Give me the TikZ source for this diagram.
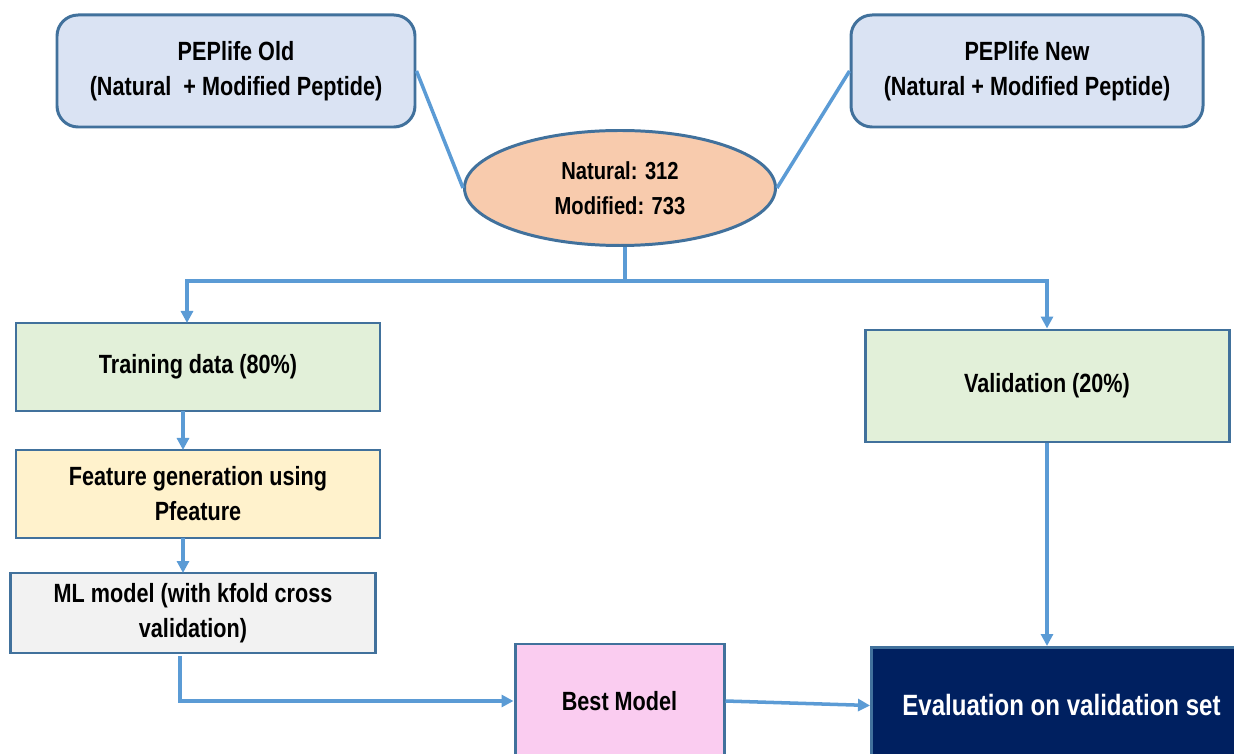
\documentclass[tikz,border=0pt]{standalone}
\usepackage{fontspec}
\setmainfont{Liberation Sans}[FakeStretch=0.82]
\usepackage{xcolor}
\usetikzlibrary{positioning, arrows.meta, shapes.geometric}
\definecolor{edgeblue}{HTML}{41719C}
\definecolor{lineblue}{HTML}{5B9BD5}
\tikzset{
  src/.style={rectangle, draw=edgeblue, line width=1.7pt, rounded corners=12pt, align=center,
              fill={rgb,255:red,218;green,227;blue,243},
              minimum width=7.16cm, minimum height=2.24cm, font=\bfseries\fontsize{15}{20}\selectfont},
  blk/.style={rectangle, draw=edgeblue, line width=1.7pt, align=center,
              minimum width=7.28cm, minimum height=1.76cm, font=\bfseries\fontsize{15}{20}\selectfont},
  arr/.style={-{Triangle[length=2.4mm, width=2.4mm]}, draw=lineblue, line width=2pt},
  ln/.style={draw=lineblue, line width=2pt},
}
\begin{document}
\begin{tikzpicture}
  \useasboundingbox (0,0) rectangle (24.68,-15.08);
  % sources
  \node[src] (old) at (4.72,-1.42) {PEPlife Old\\(Natural \ + Modified Peptide)};
  \node[src, minimum width=7.04cm] (new) at (20.54,-1.42) {PEPlife New\\(Natural + Modified Peptide)};
  \node[ellipse, draw=edgeblue, line width=1.7pt, fill={rgb,255:red,248;green,203;blue,173},
        minimum width=6.22cm, minimum height=2.3cm, align=center,
        font=\bfseries\fontsize{14}{20}\selectfont] (pool) at (12.4,-3.76) {Natural: 312\\Modified: 733};
  % split
  \node[blk, fill={rgb,255:red,226;green,240;blue,217}] (train) at (3.96,-7.34) {Training data (80\%)};
  \node[blk, fill={rgb,255:red,226;green,240;blue,217}, minimum height=2.24cm] (valid) at (20.94,-7.72) {Validation (20\%)};
  \node[blk, fill={rgb,255:red,255;green,242;blue,204}] (feat) at (3.96,-9.88) {Feature generation using\\Pfeature};
  \node[blk, fill={rgb,255:red,242;green,242;blue,242}, minimum width=7.3cm, minimum height=1.6cm] (ml) at (3.86,-12.26) {ML model (with kfold cross\\validation)};
  \node[blk, fill={rgb,255:red,250;green,204;blue,240}, minimum width=4.18cm, minimum height=2.28cm] (best) at (12.39,-14.02) {Best Model};
  \node[blk, fill={rgb,255:red,0;green,32;blue,96}, text=white, anchor=north west, minimum width=7.6cm, minimum height=2.32cm,
        font=\bfseries\fontsize{16.7}{22}\selectfont] (eval) at (17.4,-12.92) {Evaluation on validation set};
  % connectors
  \draw[ln] (old.east) -- (pool.west);
  \draw[ln] (new.west) -- (pool.east);
  \coordinate (hub) at (12.5,-5.62);
  \draw[ln] (pool.south -| hub) -- (hub);
  \draw[arr] (hub) -| (3.74,-6.46);
  \draw[arr] (hub) -| (valid.north);
  \draw[arr] (3.66,-8.22) -- (3.66,-9.0);
  \draw[arr] (3.66,-10.76) -- (3.66,-11.46);
  \draw[arr] (3.6,-13.12) |- (best.west);
  \draw[arr] (best.east) -- (eval.west);
  \draw[arr] (valid.south) -- (valid.south |- eval.north);
\end{tikzpicture}
\end{document}
